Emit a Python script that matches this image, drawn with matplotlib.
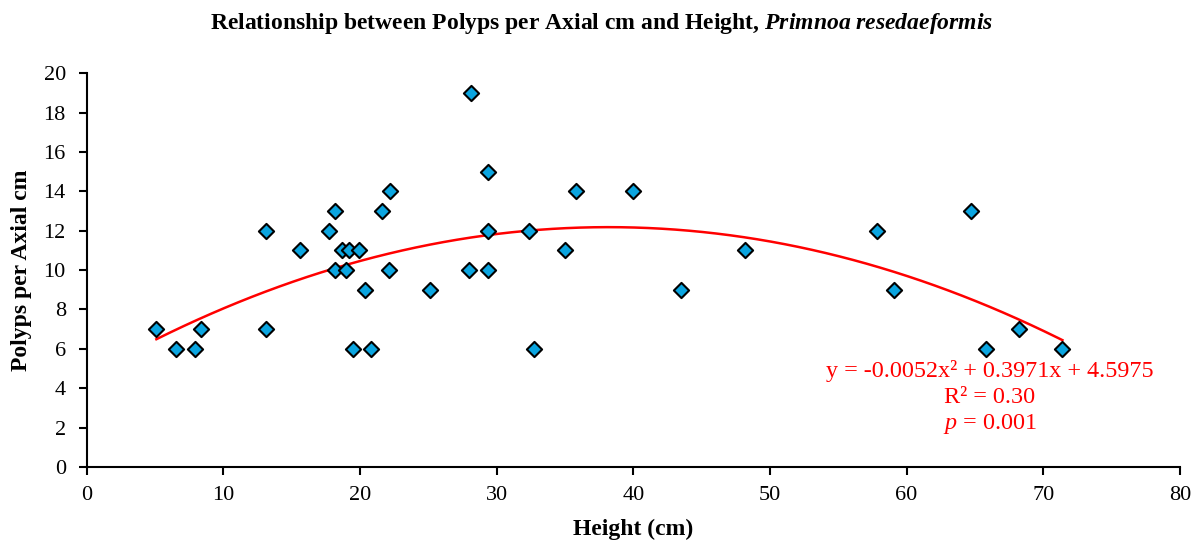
import matplotlib
matplotlib.use("Agg")
import matplotlib.pyplot as plt
import numpy as np

plt.rcParams['font.family'] = ['Liberation Serif', 'DejaVu Serif']
plt.rcParams['mathtext.fontset'] = 'custom'
plt.rcParams['mathtext.rm'] = 'Liberation Serif'
plt.rcParams['mathtext.it'] = 'Liberation Serif:italic'
plt.rcParams['mathtext.bf'] = 'Liberation Serif:bold'
plt.rcParams['mathtext.bfit'] = 'Liberation Serif:italic:bold'

height_cm = [5.1, 6.5, 7.9, 8.4, 13.1, 13.1, 15.6, 17.7, 18.2, 18.2, 18.7, 19.0,
             19.2, 19.9, 19.5, 20.4, 20.8, 21.6, 22.2, 22.1, 25.1, 28.1, 28.0,
             29.4, 29.4, 29.4, 32.4, 32.7, 35.0, 35.8, 40.0, 43.5, 48.2, 57.8,
             59.1, 64.7, 65.8, 68.2, 71.4]
polyps_per_cm = [7, 6, 6, 7, 12, 7, 11, 12, 13, 10, 11, 10,
                 11, 11, 6, 9, 6, 13, 14, 10, 9, 19, 10,
                 15, 12, 10, 12, 6, 11, 14, 14, 9, 11, 12,
                 9, 13, 6, 7, 6]
trend_coeffs = [-0.0052, 0.3971, 4.5975]
x_ticks = [0, 10, 20, 30, 40, 50, 60, 70, 80]
y_ticks = [0, 2, 4, 6, 8, 10, 12, 14, 16, 18, 20]

fig = plt.figure(figsize=(12.04, 5.5), dpi=100)
ax = fig.add_axes([0.072, 0.151, 0.908, 0.716])

ax.scatter(height_cm, polyps_per_cm, marker='D', s=60, facecolor='#0BA5E0',
           edgecolor='black', linewidth=1.5, zorder=3)

xs = np.linspace(min(height_cm), max(height_cm), 200)
ax.plot(xs, np.polyval(trend_coeffs, xs), color='red', linewidth=1.8, zorder=2)

ax.set_xlim(0, 80)
ax.set_ylim(0, 20)
ax.set_xticks(x_ticks)
ax.set_yticks(y_ticks)
ax.tick_params(axis='both', labelsize=16, direction='out', length=6, width=1.5)
ax.tick_params(axis='x', pad=8)
ax.tick_params(axis='y', pad=9)
for s in ['top', 'right']:
    ax.spines[s].set_visible(False)
for s in ['left', 'bottom']:
    ax.spines[s].set_linewidth(1.5)

ax.set_xlabel('Height (cm)', fontsize=17, fontweight='bold', labelpad=10)
ax.set_ylabel('Polyps per Axial cm', fontsize=17, fontweight='bold', labelpad=8)

fig.text(0.5, 0.958,
         r'Relationship between Polyps per Axial cm and Height, $\mathbfit{Primnoa\ resedaeformis}$',
         ha='center', va='center', fontsize=17, fontweight='bold')

ax.text(66.1, 4.87, 'y = -0.0052x² + 0.3971x + 4.5975', color='red', fontsize=17.4,
        ha='center', va='center')
ax.text(66.1, 3.55, 'R² = 0.30', color='red', fontsize=17.4, ha='center', va='center')
ax.text(66.1, 2.18, r'$\mathit{p}$ = 0.001', color='red', fontsize=17.4, ha='center', va='center')

fig.savefig('out.png', dpi=100)
